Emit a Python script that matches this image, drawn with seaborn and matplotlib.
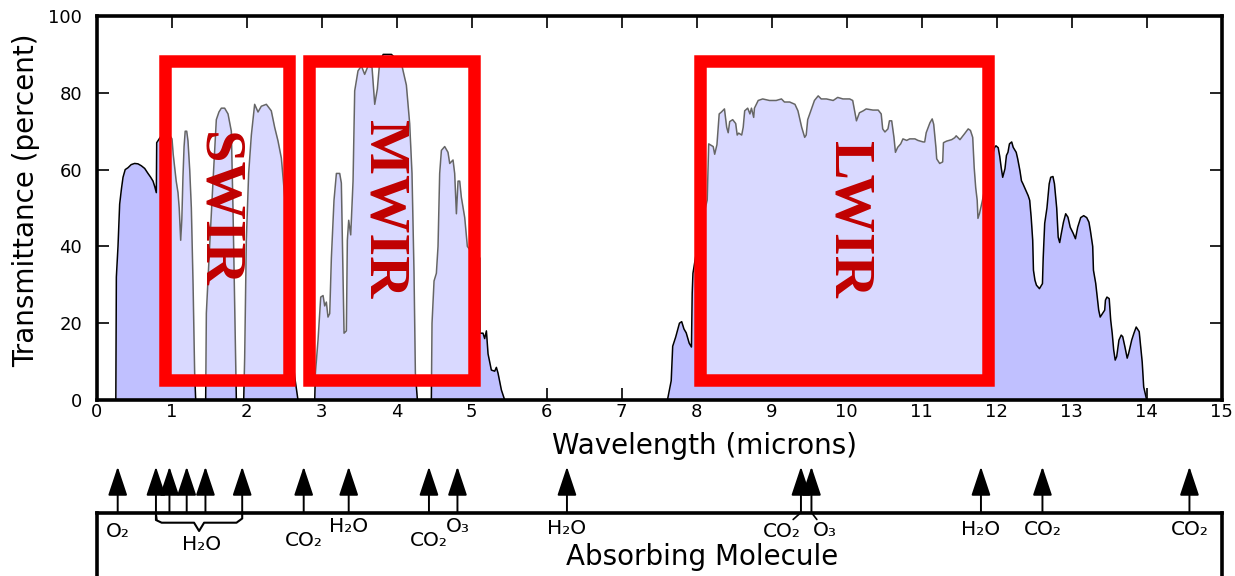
import matplotlib
matplotlib.use("Agg")
import matplotlib.pyplot as plt
from matplotlib.patches import Rectangle
import pandas as pd
import seaborn as sns

# Atmospheric transmittance curve
WAVELENGTH = [
    0.00, 0.255, 0.262, 0.284, 0.306, 0.33, 0.351, 0.38, 0.418, 0.46, 0.506,
    0.55, 0.595, 0.64, 0.684, 0.72, 0.751, 0.775, 0.795, 0.80, 0.85, 0.92,
    0.97, 1.004, 1.02, 1.04, 1.06, 1.084, 1.10, 1.12, 1.135, 1.15, 1.165,
    1.18, 1.20, 1.217, 1.24, 1.262, 1.285, 1.306, 1.32, 1.453, 1.462, 1.506,
    1.551, 1.595, 1.63, 1.662, 1.706, 1.751, 1.795, 1.817, 1.84, 1.862, 1.96,
    1.973, 1.995, 2.026, 2.062, 2.106, 2.151, 2.195, 2.262, 2.30, 2.328,
    2.373, 2.417, 2.462, 2.52, 2.58, 2.62, 2.64, 2.684, 2.907, 2.916, 2.951,
    2.987, 3.018, 3.04, 3.062, 3.084, 3.107, 3.129, 3.164, 3.196, 3.24,
    3.262, 3.284, 3.298, 3.329, 3.342, 3.36, 3.387, 3.418, 3.44, 3.484,
    3.529, 3.573, 3.618, 3.671, 3.707, 3.742, 3.773, 3.82, 3.93, 3.98,
    4.062, 4.129, 4.173, 4.204, 4.231, 4.249, 4.276, 4.462, 4.471, 4.498,
    4.529, 4.551, 4.573, 4.596, 4.64, 4.684, 4.707, 4.751, 4.773, 4.796,
    4.818, 4.84, 4.862, 4.907, 4.942, 5.0, 5.107, 5.11, 5.151, 5.173, 5.196,
    5.218, 5.262, 5.307, 5.329, 5.351, 5.396, 5.44, 7.61, 7.66, 7.68, 7.72,
    7.77, 7.80, 7.83, 7.86, 7.90, 7.93, 7.94, 7.95, 8.05, 8.14, 8.16, 8.22,
    8.24, 8.27, 8.30, 8.33, 8.37, 8.40, 8.42, 8.44, 8.48, 8.52, 8.54, 8.56,
    8.60, 8.62, 8.64, 8.68, 8.71, 8.73, 8.76, 8.77, 8.82, 8.88, 8.97, 9.06,
    9.13, 9.17, 9.24, 9.31, 9.35, 9.40, 9.44, 9.46, 9.48, 9.53, 9.57, 9.62,
    9.66, 9.73, 9.82, 9.88, 9.95, 10.04, 10.08, 10.11, 10.13, 10.17, 10.22,
    10.26, 10.35, 10.42, 10.46, 10.48, 10.51, 10.55, 10.57, 10.60, 10.63,
    10.65, 10.68, 10.72, 10.75, 10.80, 10.84, 10.91, 10.95, 11.02, 11.04,
    11.06, 11.11, 11.14, 11.16, 11.19, 11.20, 11.24, 11.28, 11.29, 11.33,
    11.40, 11.44, 11.46, 11.51, 11.57, 11.62, 11.65, 11.68, 11.70, 11.72,
    11.74, 11.75, 11.77, 11.81, 11.89, 11.97, 11.99, 12.02, 12.04, 12.06,
    12.08, 12.11, 12.13, 12.15, 12.17, 12.20, 12.22, 12.26, 12.28, 12.31,
    12.33, 12.35, 12.37, 12.40, 12.42, 12.44, 12.46, 12.48, 12.49, 12.51,
    12.53, 12.57, 12.61, 12.62, 12.64, 12.67, 12.70, 12.72, 12.75, 12.77,
    12.80, 12.82, 12.84, 12.86, 12.89, 12.92, 12.95, 12.98, 13.02, 13.05,
    13.08, 13.12, 13.16, 13.20, 13.23, 13.25, 13.28, 13.29, 13.32, 13.34,
    13.36, 13.38, 13.41, 13.44, 13.45, 13.47, 13.50, 13.52, 13.54, 13.56,
    13.58, 13.60, 13.63, 13.66, 13.68, 13.71, 13.74, 13.76, 13.80, 13.83,
    13.86, 13.90, 13.92, 13.94, 13.96, 13.99, 14.00, 15.00,
]
TRANSMITTANCE = [
    0, 0, 32, 40, 51, 55, 58, 60, 60.5, 61.3, 61.6,
    61.5, 61, 60.3, 59, 58, 57, 55.5, 54, 67, 68.5, 67.5,
    69, 68, 64, 60.5, 57, 54, 50, 41.6, 47, 58, 66,
    70, 70, 67.5, 60, 50, 30, 7, 0, 0, 22.6, 40,
    57, 73, 75, 76, 76, 74.5, 70, 50, 24, 0, 0,
    11, 41.6, 59, 69, 77, 75, 76.5, 77, 76, 75.3,
    71, 67.5, 63, 50, 25, 10, 6, 0, 0, 7, 15.6,
    26.8, 27.2, 24.5, 25.5, 21.6, 22.5, 37, 52, 59, 59,
    56.5, 33, 17.4, 18, 41.6, 46.8, 43, 57, 80.5, 85.7,
    87, 84.8, 87, 86.6, 77, 81, 88, 90, 90, 89,
    87.7, 82, 72, 59, 33, 7, 0, 0, 20, 31,
    33, 40, 59, 65, 66, 64.5, 61.6, 62.5, 59, 48.5,
    57, 57, 52.8, 47.5, 40, 38.5, 37, 17.4, 17.4, 16, 18,
    12, 7.8, 7.5, 8.5, 7, 2.6, 0, 0, 5, 14, 16.4,
    20, 20.4, 18.5, 17.5, 14.8, 13.8, 27.8, 33, 45, 52, 66.7, 66,
    64, 66.5, 74.5, 75, 75.8, 71, 69.6, 72.5, 73, 72, 69, 69.5,
    69, 71, 75.3, 76, 74.5, 76, 73.6, 76, 78, 78.4, 78, 78,
    78.4, 77.6, 77.6, 77, 75.3, 71, 68.4, 69, 73, 75.8, 78, 79.2,
    78.4, 78.4, 78, 78.8, 78.4, 78.4, 78, 74.8, 72.7, 74.8, 75.3,
    75.8, 75.5, 75.5, 74.5, 70.6, 69.8, 70.6, 72.7, 72.7, 68.4,
    64.5, 65.8, 66.7, 68, 67.6, 68, 68, 67.6, 67.2, 67.2,
    69.6, 72.2, 73.2, 71.8, 65.7, 62.8, 61.6, 62, 67, 67.4,
    67.8, 68.3, 68.8, 67.8, 69.3, 70.6, 70.2, 68.4, 60.5, 55.3,
    52, 47.3, 48.5, 52, 60, 65.7, 66.2, 65.7, 63.5, 60.5,
    58, 60.2, 63.7, 64.5, 66.7, 67.2, 65.8, 64.5, 62.8, 59.7,
    57.1, 56.3, 55.4, 54, 53.2, 52, 47.5, 41.6, 33.8, 31.2,
    29.9, 29, 30.3, 37, 46, 50, 56.3, 58, 58.2, 56.3,
    50, 42.4, 41, 43.2, 46.3, 48.5, 47.6, 45, 43.4, 42,
    45, 47.5, 48, 47.5, 46.3, 44, 40, 33.8, 30.4, 26.8,
    23.4, 21.6, 22.5, 23.4, 26, 26.8, 26.4, 20.8, 17.4, 13,
    10.4, 11.3, 15.6, 16.9, 16.5, 13.8, 10.9, 12.2, 15.6, 17.4,
    19, 17.8, 13.8, 9.9, 3.4, 0.8, 0, 0,
]

# Infrared bands marked with red boxes (microns)
BAND_NAMES = ["SWIR", "MWIR", "LWIR"]
BAND_START = [0.91, 2.83, 8.05]
BAND_END = [2.56, 5.03, 11.89]

# Absorption lines: arrow position (microns) and the label group it belongs to
ARROW_UM = [0.28, 0.79, 0.97, 1.20, 1.45, 1.94, 2.76, 3.36, 4.43, 4.81,
            6.27, 9.39, 9.53, 11.79, 12.61, 14.57]
ARROW_GROUP = [0, 1, 1, 1, 1, 1, 2, 3, 4, 5, 6, 7, 8, 9, 10, 11]
GROUP_NAMES = ["O₂", "H₂O", "CO₂", "H₂O", "CO₂", "O₃", "H₂O", "CO₂", "O₃",
               "H₂O", "CO₂", "CO₂"]

# layout only: label drop below the panel line (px) and sideways shift (microns)
LABEL_DROP = [19, 32.5, 28.5, 14.2, 28.5, 14.2, 16.5, 19, 17.5, 17, 17, 17]
LABEL_DX = [0, 0.03, 0, 0, 0, 0, 0, -0.26, 0.18, 0, 0, 0]
BAND_TEXT_POS = [(1.61, 49.4), (3.83, 49.6), (10.03, 47.0)]

sns.set_theme(style="white")
plt.rcParams["font.family"] = ["DejaVu Sans"]
plt.rcParams["text.color"] = "black"
plt.rcParams["axes.labelcolor"] = "black"

W, H = 1235, 576
fig = plt.figure(figsize=(W / 100, H / 100), dpi=100)

x0, x1 = 96.7, 1221.7
ax = fig.add_axes([x0 / W, 1 - 400 / H, (x1 - x0) / W, 384 / H])

df = pd.DataFrame({"wavelength": WAVELENGTH, "transmittance": TRANSMITTANCE})
ax.fill_between(df["wavelength"], df["transmittance"], color="#C0C0FF",
                lw=0, zorder=1)
sns.lineplot(data=df, x="wavelength", y="transmittance", ax=ax,
             color="black", lw=1.1, estimator=None, zorder=2)

ax.set_xlim(0, 15)
ax.set_ylim(0, 100)
ax.set_xticks(range(16))
ax.set_yticks(range(0, 101, 20))
ax.xaxis.set_tick_params(which="both", direction="in", length=8.5, width=1.2,
                         bottom=True, top=True, labelbottom=True,
                         labeltop=False, labelsize=13, labelcolor="black",
                         color="black", pad=2)
ax.yaxis.set_ticks_position("left")
ax.yaxis.set_tick_params(which="both", direction="in", length=8.5, width=1.2,
                         labelsize=13, labelcolor="black", color="black",
                         pad=10.5)
for sp in ax.spines.values():
    sp.set_linewidth(2.6)
    sp.set_color("black")

# inward ticks on the right side, no labels
rx = ax.secondary_yaxis("right")
rx.set_yticks(range(0, 101, 20))
rx.set_yticklabels([])
rx.tick_params(direction="in", length=8.5, width=1.2, color="black")
rx.spines["right"].set_visible(False)

ax.set_xlabel("Wavelength (microns)", fontsize=20, color="black")
ax.xaxis.set_label_coords(0.540, -0.083)
ax.set_ylabel("Transmittance (percent)", fontsize=20, color="black")
ax.yaxis.set_label_coords(-0.050, 0.52)

box_lo, box_hi = 5.3, 88.3
for name, a, b, (tx, ty) in zip(BAND_NAMES, BAND_START, BAND_END, BAND_TEXT_POS):
    ax.add_patch(Rectangle((a, box_lo), b - a, box_hi - box_lo,
                           facecolor="white", alpha=0.4, edgecolor="none",
                           zorder=3))
    ax.add_patch(Rectangle((a, box_lo), b - a, box_hi - box_lo, fill=False,
                           edgecolor="#FF0000", lw=9, joinstyle="miter",
                           zorder=4))
    ax.text(tx, ty, name, rotation=270, ha="center", va="center",
            fontsize=42, fontweight="bold", family="Liberation Serif",
            color="#C00000", zorder=5)

# Absorbing molecule panel, y in pixels below its top line
top_px = 512.5
bx = fig.add_axes([x0 / W, 0, (x1 - x0) / W, (H - top_px) / H])
bx.set_xlim(0, 15)
bx.set_ylim(-(H - top_px), 0)
bx.set_xticks([])
bx.set_yticks([])
bx.set_facecolor("none")
for side in ["top", "left", "right"]:
    bx.spines[side].set_linewidth(2.6)
    bx.spines[side].set_color("black")
bx.spines["bottom"].set_visible(False)

for xv in ARROW_UM:
    bx.annotate("", xy=(xv, 45.8), xytext=(xv, 0),
                arrowprops=dict(arrowstyle="-|>,head_length=1.8,head_width=0.6",
                                mutation_scale=10, color="black", lw=1.4,
                                shrinkA=0, shrinkB=0),
                annotation_clip=False)

for g, name in enumerate(GROUP_NAMES):
    members = [xv for xv, gi in zip(ARROW_UM, ARROW_GROUP) if gi == g]
    lo, hi = min(members), max(members)
    xc = (lo + hi) / 2 + LABEL_DX[g]
    drop = LABEL_DROP[g]
    if len(members) > 1:
        mid = (lo + hi) / 2
        bx.plot([lo, lo, lo + 0.076, mid - 0.067, mid, mid + 0.067,
                 hi - 0.076, hi, hi],
                [0, -7.5, -10.2, -10.2, -18.5, -10.2, -10.2, -6, 0],
                color="black", lw=1.5, clip_on=False)
    if LABEL_DX[g] != 0:
        bx.plot([members[0], members[0] + 0.4 * LABEL_DX[g]], [0, -7],
                color="black", lw=1.2, clip_on=False)
    bx.text(xc, -drop, name, ha="center", va="center", fontsize=14.5,
            color="black")

bx.text(0.538, -44.5, "Absorbing Molecule", transform=bx.get_yaxis_transform(),
        ha="center", va="center", fontsize=20, color="black")

fig.savefig("out.png", dpi=100)
